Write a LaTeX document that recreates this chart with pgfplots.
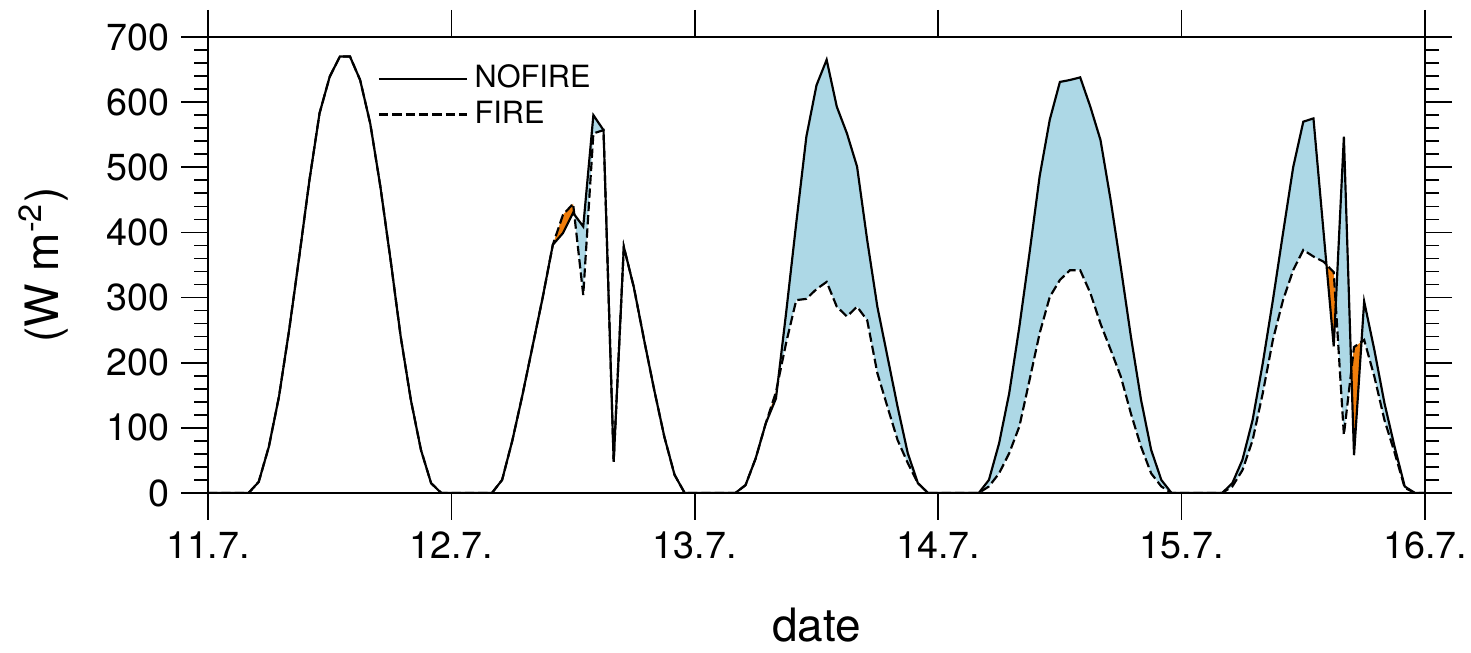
\documentclass[border=0pt]{standalone}
\usepackage{fontspec}
\setmainfont{TeX Gyre Heros}
\usepackage{pgfplots}
\pgfplotsset{compat=1.18}
\usepackage{pgfplotstable}
\usepgfplotslibrary{fillbetween}

\definecolor{fillblue}{RGB}{173,216,230}
\definecolor{fillorange}{RGB}{240,125,10}

% hourly values, h = hours since 11.7. 00:00
\pgfplotstableread{
h N F
0 0 0
1 0 0
2 0 0
3 0 0
4 0 0
5 17 17
6 71 71
7 148 148
8 250 250
9 363 363
10 480 480
11 583 583
12 639 639
13 670 670
14 670 670
15 634 634
16 567 567
17 470 470
18 358 358
19 240 240
20 143 143
21 66 66
22 15 15
23 0 0
24 0 0
25 0 0
26 0 0
27 0 0
28 0 0
29 20 20
30 80 80
31 150 150
32 225 225
33 300 300
34 381 381
35 399 427
36 430 444
37 409 304
38 580 552
39 557 557
40 48 48
41 378 378
42 315 315
43 235 235
44 158 158
45 86 86
46 28 28
47 0 0
48 0 0
49 0 0
50 0 0
51 0 0
52 0 0
53 12 12
54 53 53
55 107 107
56 145 155
57 276 230
58 414 296
59 547 298
60 626 313
61 665 324
62 593 286
63 552 271
64 501 286
65 388 265
66 286 184
67 209 132
68 132 81
69 61 46
70 15 15
71 0 0
72 0 0
73 0 0
74 0 0
75 0 0
76 0 0
77 20 10
78 76 30
79 153 61
80 255 102
81 368 173
82 486 245
83 573 301
84 631 327
85 634 342
86 638 342
87 593 307
88 542 260
89 450 220
90 347 179
91 240 122
92 143 71
93 66 30
94 20 10
95 0 0
96 0 0
97 0 0
98 0 0
99 0 0
100 0 0
101 15 10
102 51 35
103 112 81
104 199 153
105 296 235
106 399 296
107 500 342
108 570 373
109 575 363
110 400 355
111 225 339
112 547 89
113 58 224
114 294 235
115 220 179
116 138 112
117 71 62
118 10 8
119 0 0
120 0 0
}\swdata

\begin{document}
\begin{tikzpicture}
\begin{axis}[
  scale only axis,
  width=365.1pt, height=136.8pt,
  xmin=0, xmax=120, ymin=0, ymax=700,
  xtick={0,24,...,120},
  xticklabels={11.7.,12.7.,13.7.,14.7.,15.7.,16.7.},
  ytick={0,100,...,700},
  minor y tick num=4,
  tick align=outside, tick pos=both,
  major tick length=8.1pt, minor tick length=4.2pt,
  every tick/.style={black, line width=0.5pt},
  axis line style={line width=0.6pt},
  ticklabel style={font=\fontsize{11.3}{13}\selectfont},
  /pgf/number format/assume math mode=true,
  xlabel={date},
  ylabel={(W m\textsuperscript{-2})},
  label style={font=\fontsize{13.8}{16}\selectfont},
  xlabel style={at={(axis description cs:0.5,-0.29)}, anchor=center},
  ylabel style={at={(axis description cs:-0.135,0.5)}, anchor=center},
  legend style={draw=none, fill=none, at={(0.139,0.955)}, anchor=north west,
    font=\fontsize{9.2}{11}\selectfont, inner sep=0pt, row sep=-1.6pt},
  legend cell align=left,
  legend image code/.code={\draw[#1] (0pt,0pt) -- (26.4pt,0pt);},
]
\addplot[name path=nofire, draw=none, forget plot] table[x=h, y=N] {\swdata};
\addplot[name path=fire, draw=none, forget plot] table[x=h, y=F] {\swdata};
\addplot[fill=fillblue, draw=none, forget plot] fill between[of=nofire and fire];

% where FIRE lies above NOFIRE
\addplot[fill=fillorange, draw=none, forget plot] coordinates
  {(34,381) (35,427) (36,444) (36.12,427.5) (36,430) (35,399)} --cycle;
\addplot[fill=fillorange, draw=none, forget plot] coordinates
  {(55,107) (56,155) (56.18,168.6) (56,145)} --cycle;
\addplot[fill=fillorange, draw=none, forget plot] coordinates
  {(110.28,350.5) (111,339) (111.2,289) (111,225)} --cycle;
\addplot[fill=fillorange, draw=none, forget plot] coordinates
  {(112.73,188) (113,224) (113.74,232) (113,58)} --cycle;

\addplot[black, line width=0.65pt] table[x=h, y=N] {\swdata};
\addlegendentry{NOFIRE}
\addplot[black, line width=0.65pt, dash pattern=on 2.8pt off 1.2pt] table[x=h, y=F] {\swdata};
\addlegendentry{FIRE}

\coordinate (sw) at (rel axis cs:0,0);
\coordinate (ne) at (rel axis cs:1,1);
\end{axis}
\pgfresetboundingbox
\path[use as bounding box] ([xshift=-62.4pt,yshift=-48pt]sw) rectangle ([xshift=13.8pt,yshift=11.1pt]ne);
\end{tikzpicture}
\end{document}
